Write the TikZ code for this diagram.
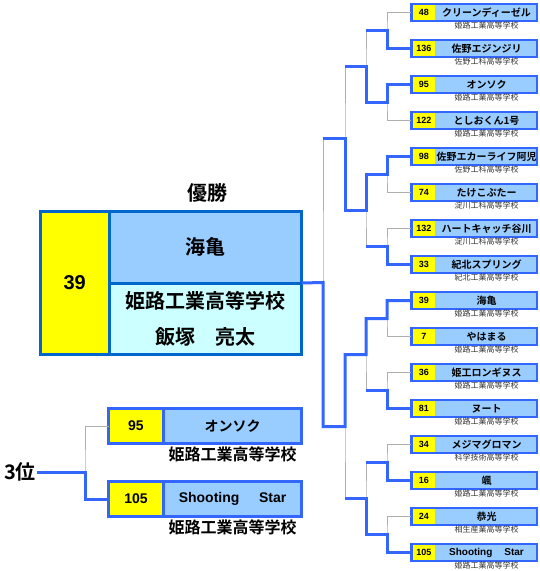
\documentclass[tikz,border=0pt]{standalone}
\usepackage{fontspec}
\setmainfont{Liberation Sans}
\newfontfamily\jp{Noto Sans CJK JP}[BoldFont={Noto Sans CJK JP Bold}]
\usetikzlibrary{positioning}
\definecolor{brk}{RGB}{51,102,255}
\definecolor{champline}{RGB}{0,102,204}
\definecolor{cellblue}{RGB}{153,204,255}
\definecolor{cellcyan}{RGB}{204,255,255}
\definecolor{numyellow}{RGB}{255,255,0}
\definecolor{lostgray}{RGB}{175,175,175}

\begin{document}
\begin{tikzpicture}[x=1pt, y=-1pt,
    entry/.style={rectangle, draw=brk, line width=2.5pt, fill=cellblue, outer sep=0pt, inner sep=0pt,
        minimum width=125.5pt, minimum height=17pt, font=\jp\bfseries\fontsize{10}{10}\selectfont,
        execute at begin node={\hspace*{25pt}}},
    seed/.style={anchor=west, xshift=1.25pt, fill=numyellow, inner sep=0pt, minimum width=22.5pt,
        minimum height=14.5pt, font=\bfseries\fontsize{9}{9}\selectfont},
    school/.style={xshift=12.5pt, yshift=-1pt, inner sep=0pt, outer sep=0pt, text=black!80,
        font=\jp\fontsize{8}{8}\selectfont},
    thirdseed/.style={rectangle, draw=brk, fill=numyellow, line width=3pt, outer sep=0pt, inner sep=0pt,
        minimum width=55pt, minimum height=35pt, font=\bfseries\fontsize{14}{14}\selectfont},
    thirdteam/.style={rectangle, draw=brk, fill=cellblue, line width=3pt, outer sep=0pt, inner sep=0pt,
        minimum width=138pt, minimum height=35pt, font=\jp\bfseries\fontsize{14}{14}\selectfont},
    bigschool/.style={yshift=-3.5pt, inner sep=0pt, outer sep=0pt, font=\jp\bfseries\fontsize{16}{16}\selectfont},
    champcell/.style={rectangle, draw=champline, line width=3pt, outer sep=0pt, inner sep=0pt,
        minimum width=192.5pt, minimum height=71.5pt, font=\jp\bfseries\fontsize{20}{36}\selectfont},
    won/.style={draw=brk, line width=3pt},
    lost/.style={draw=lostgray, line width=1pt},
]
\useasboundingbox (0,0) rectangle (540,571);

% champion
\node[font=\jp\bfseries\fontsize{20}{20}\selectfont] (title) at (207,193) {優勝};
\node[rectangle, draw=champline, fill=numyellow, line width=3pt, outer sep=0pt, minimum width=68.5pt,
    minimum height=143pt, font=\bfseries\fontsize{20}{20}\selectfont] (cseed) at (74.75,283) {39};
\node[champcell, fill=cellblue] (cteam) at (205.25,247.25) {海亀};
\node[champcell, fill=cellcyan, align=center] (cname) at (205.25,318.75) {姫路工業高等学校\\飯塚　亮太};

% third place
\node[font=\jp\bfseries\fontsize{20}{20}\selectfont, inner sep=1pt] (third) at (20,472) {3位};
\node[thirdseed] (tseed1) at (136,426) {95};
\node[thirdteam, right=0pt of tseed1, label={[bigschool]below:姫路工業高等学校}] (tteam1) {オンソク};
\node[thirdseed] (tseed2) at (136,499) {105};
\node[thirdteam, right=0pt of tseed2, label={[bigschool]below:姫路工業高等学校}] (tteam2) {{\rmfamily Shooting\hspace{1.4em}Star}};
\coordinate (tj) at (85,472);

% entries
\node[entry, label={[seed]west:48}, label={[school]below:姫路工業高等学校}] (e1) at (474,12.5) {クリーンディーゼル};
\node[entry, label={[seed]west:136}, label={[school]below:佐野工科高等学校}] (e2) at (474,48.5) {佐野エジンジリ};
\node[entry, label={[seed]west:95}, label={[school]below:姫路工業高等学校}] (e3) at (474,84.5) {オンソク};
\node[entry, label={[seed]west:122}, label={[school]below:姫路工業高等学校}] (e4) at (474,120.5) {としおくん1号};
\node[entry, label={[seed]west:98}, label={[school]below:佐野工科高等学校}] (e5) at (474,156.5) {佐野エカーライフ阿児};
\node[entry, label={[seed]west:74}, label={[school]below:淀川工科高等学校}] (e6) at (474,192.5) {たけこぷたー};
\node[entry, label={[seed]west:132}, label={[school]below:淀川工科高等学校}] (e7) at (474,228.5) {ハートキャッチ谷川};
\node[entry, label={[seed]west:33}, label={[school]below:紀北工業高等学校}] (e8) at (474,264.5) {紀北スプリング};
\node[entry, label={[seed]west:39}, label={[school]below:姫路工業高等学校}] (e9) at (474,300.5) {海亀};
\node[entry, label={[seed]west:7}, label={[school]below:姫路工業高等学校}] (e10) at (474,336.5) {やはまる};
\node[entry, label={[seed]west:36}, label={[school]below:姫路工業高等学校}] (e11) at (474,372.5) {姫工ロンギヌス};
\node[entry, label={[seed]west:81}, label={[school]below:姫路工業高等学校}] (e12) at (474,408.5) {ヌート};
\node[entry, label={[seed]west:34}, label={[school]below:科学技術高等学校}] (e13) at (474,444.5) {メジマグロマン};
\node[entry, label={[seed]west:16}, label={[school]below:姫路工業高等学校}] (e14) at (474,480.5) {颯};
\node[entry, label={[seed]west:24}, label={[school]below:相生産業高等学校}] (e15) at (474,516.5) {恭光};
\node[entry, label={[seed]west:105}, label={[school]below:姫路工業高等学校}] (e16) at (474,552.5) {{\rmfamily Shooting\hspace{1.2em}Star}};

% bracket junctions
\coordinate (r1a) at (387,30.5);
\coordinate (r1b) at (387,102.5);
\coordinate (r1c) at (387,174.5);
\coordinate (r1d) at (387,246.5);
\coordinate (r1e) at (387,318.5);
\coordinate (r1f) at (387,390.5);
\coordinate (r1g) at (387,462.5);
\coordinate (r1h) at (387,534.5);
\coordinate (r2a) at (366,66.5);
\coordinate (r2b) at (366,210.5);
\coordinate (r2c) at (366,354.5);
\coordinate (r2d) at (366,498.5);
\coordinate (r3a) at (345,138.5);
\coordinate (r3b) at (345,426.5);
\coordinate (fin) at (323,282.5);

% all matches
\draw[lost] (e1.west) -| (r1a) |- (e2.west);
\draw[lost] (e3.west) -| (r1b) |- (e4.west);
\draw[lost] (e5.west) -| (r1c) |- (e6.west);
\draw[lost] (e7.west) -| (r1d) |- (e8.west);
\draw[lost] (e9.west) -| (r1e) |- (e10.west);
\draw[lost] (e11.west) -| (r1f) |- (e12.west);
\draw[lost] (e13.west) -| (r1g) |- (e14.west);
\draw[lost] (e15.west) -| (r1h) |- (e16.west);
\draw[lost] (r1a) -| (r2a) |- (r1b);
\draw[lost] (r1c) -| (r2b) |- (r1d);
\draw[lost] (r1e) -| (r2c) |- (r1f);
\draw[lost] (r1g) -| (r2d) |- (r1h);
\draw[lost] (r2a) -| (r3a) |- (r2b);
\draw[lost] (r2c) -| (r3b) |- (r2d);
\draw[lost] (r3a) -| (fin) |- (r3b);
\draw[lost] (tseed1.west) -| (tj) |- (tseed2.west);

% winners
\draw[won] (e2.west) -| (r1a) -- (r1a -| r2a);
\draw[won] (e3.west) -| (r1b) -| (r2a) -- (r2a -| r3a);
\draw[won] (e5.west) -| (r1c) -| (r2b) -| (r3a) -- (r3a -| fin);
\draw[won] (e8.west) -| (r1d) -- (r1d -| r2b);
\draw[won] (e9.west) -| (r1e) -| (r2c) -| (r3b) -| (fin) -- (cname.north east);
\draw[won] (e12.west) -| (r1f) -- (r1f -| r2c);
\draw[won] (e14.west) -| (r1g) -- (r1g -| r2d);
\draw[won] (e16.west) -| (r1h) -| (r2d) -- (r2d -| r3b);
\draw[won] (tseed2.west) -| (tj) -- (third.east);
\end{tikzpicture}
\end{document}
